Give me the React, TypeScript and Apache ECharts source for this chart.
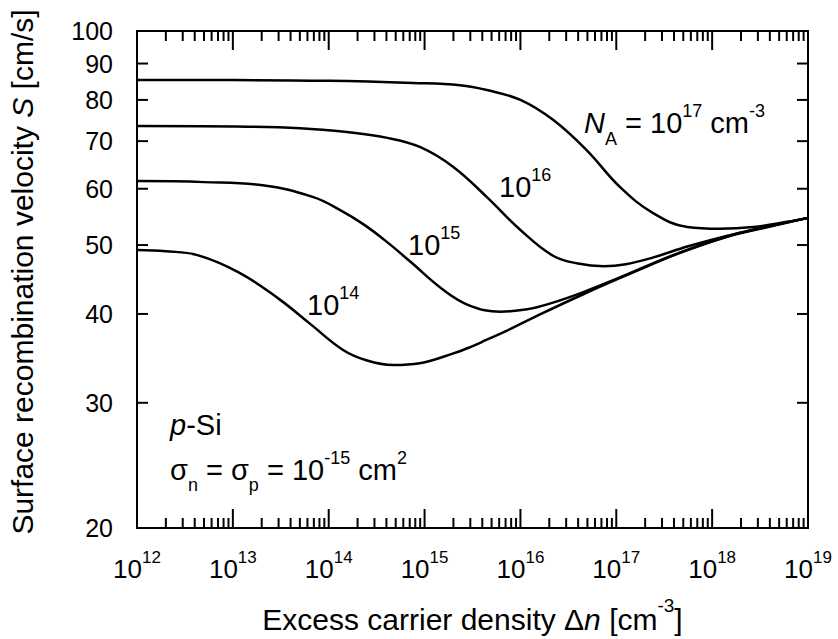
import { useEffect, useRef } from "react";
import * as echarts from "echarts";

const FONT = '"Liberation Sans", Arial, Helvetica, sans-serif';

// Δn given as log10(Δn / cm^-3); S in cm/s. One curve per acceptor density N_A.
const dnExp14 = [12.0, 12.3, 12.63, 13.07, 13.49, 13.8, 14.15, 14.4, 14.67, 14.95, 15.3, 15.47, 15.65, 15.86, 16.13, 16.65, 17.2, 17.66, 18.15, 18.5, 19.0];
const sRec14 = [49.2, 49.0, 48.4, 45.7, 41.9, 38.8, 35.6, 34.4, 33.9, 34.1, 35.2, 35.9, 36.8, 37.9, 39.5, 42.6, 45.9, 48.7, 51.3, 52.7, 54.6];

const dnExp15 = [12.0, 12.7, 13.31, 13.84, 14.12, 14.36, 14.6, 14.85, 15.19, 15.47, 15.79, 16.07, 16.34, 16.65, 17.0, 17.66, 18.15, 18.5, 19.0];
const sRec15 = [61.5, 61.3, 60.7, 58.4, 56.0, 53.5, 50.6, 47.4, 43.3, 41.1, 40.3, 40.6, 41.5, 42.9, 44.8, 48.8, 51.4, 52.8, 54.6];

const dnExp16 = [12.0, 13.0, 13.7, 14.19, 14.6, 14.95, 15.3, 15.65, 16.0, 16.34, 16.6, 16.87, 17.1, 17.38, 17.75, 18.15, 18.5, 19.0];
const sRec16 = [73.5, 73.4, 73.0, 72.1, 70.8, 68.7, 64.4, 58.4, 52.5, 48.3, 47.1, 46.7, 47.0, 48.0, 49.8, 51.5, 52.8, 54.6];

const dnExp17 = [12.0, 13.0, 14.0, 14.88, 15.37, 15.65, 16.0, 16.34, 16.69, 17.04, 17.38, 17.74, 18.08, 18.43, 18.78, 19.0];
const sRec17 = [85.3, 85.3, 85.1, 84.5, 83.9, 82.6, 80.0, 75.0, 68.0, 60.3, 55.5, 53.0, 52.7, 53.0, 53.9, 54.6];

// Axis ticks
const xDecades = [12, 13, 14, 15, 16, 17, 18, 19];
const yTickValues = [20, 30, 40, 50, 60, 70, 80, 90, 100];

const X_MIN = 1e12;
const X_MAX = 1e19;
const Y_MIN = 20;
const Y_MAX = 100;

const GRID = { left: 137, top: 31, width: 671, height: 497 };

type Piece = { t: string; size: number; dy?: number; italic?: boolean };

let measureCtx: CanvasRenderingContext2D | null = null;
function textWidth(t: string, size: number, italic?: boolean): number {
  if (!measureCtx) measureCtx = document.createElement("canvas").getContext("2d");
  if (!measureCtx) return t.length * size * 0.55;
  measureCtx.font = `${italic ? "italic " : ""}${size}px ${FONT}`;
  return measureCtx.measureText(t).width;
}

function textEl(t: string, x: number, y: number, size: number, italic?: boolean) {
  return {
    type: "text",
    x,
    y,
    silent: true,
    style: {
      text: t,
      fill: "#000",
      font: `${italic ? "italic " : ""}${size}px ${FONT}`,
      align: "left",
      textAlign: "left",
      verticalAlign: "middle",
      textVerticalAlign: "middle",
    },
  };
}

// Lays a run of text pieces (with super/subscripts) on one baseline.
function textRun(pieces: Piece[], x: number, baseline: number, align: "left" | "center" | "right") {
  const widths = pieces.map((p) => textWidth(p.t, p.size, p.italic));
  const total = widths.reduce((a, b) => a + b, 0);
  let cx = align === "left" ? x : align === "center" ? x - total / 2 : x - total;
  return pieces.map((p, i) => {
    const el = textEl(p.t, cx, baseline + (p.dy ?? 0) - 0.3465 * p.size, p.size, p.italic);
    cx += widths[i];
    return el;
  });
}

const toPoints = (exps: number[], vals: number[]) => exps.map((e, i) => [Math.pow(10, e), vals[i]]);

const xTickData: number[][] = [];
xDecades.forEach((e, i) => {
  xTickData.push([Math.pow(10, e), Y_MIN, 1]);
  if (i < xDecades.length - 1) {
    for (let m = 2; m <= 9; m++) xTickData.push([m * Math.pow(10, e), Y_MIN, 0]);
  }
});

const TICK = { stroke: "#000", lineWidth: 2 };

function curve(name: string, exps: number[], vals: number[]) {
  return {
    name,
    type: "line",
    data: toPoints(exps, vals),
    showSymbol: false,
    smooth: 0.4,
    lineStyle: { color: "#000", width: 2.5 },
    silent: true,
    z: 3,
  };
}

const ANN = 29;
const SUP = 18;
const TITLE = 30;

function buildOption(): any {
  const annotations = [
    ...textRun([{ t: "10", size: ANN }, { t: "14", size: SUP, dy: -16 }], 307, 315, "left"),
    ...textRun([{ t: "10", size: ANN }, { t: "15", size: SUP, dy: -16 }], 408, 255, "left"),
    ...textRun([{ t: "10", size: ANN }, { t: "16", size: SUP, dy: -16 }], 499, 197, "left"),
    ...textRun(
      [
        { t: "N", size: ANN, italic: true },
        { t: "A", size: SUP, dy: 12 },
        { t: " = 10", size: ANN },
        { t: "17", size: SUP, dy: -16 },
        { t: " cm", size: ANN },
        { t: "-3", size: SUP, dy: -16 },
      ],
      584,
      133,
      "left"
    ),
    ...textRun([{ t: "p", size: ANN, italic: true }, { t: "-Si", size: ANN }], 170, 435, "left"),
    ...textRun(
      [
        { t: "σ", size: ANN },
        { t: "n", size: SUP, dy: 11 },
        { t: " = σ", size: ANN },
        { t: "p", size: SUP, dy: 11 },
        { t: " = 10", size: ANN },
        { t: "-15", size: SUP, dy: -16 },
        { t: " cm", size: ANN },
        { t: "2", size: SUP, dy: -16 },
      ],
      170,
      480,
      "left"
    ),
    // x axis title
    ...textRun(
      [
        { t: "Excess carrier density Δ", size: TITLE },
        { t: "n", size: TITLE, italic: true },
        { t: " [cm", size: TITLE },
        { t: "-3", size: 19, dy: -18 },
        { t: "]", size: TITLE },
      ],
      GRID.left + GRID.width / 2,
      630,
      "center"
    ),
    // y axis title, rotated to read bottom to top
    {
      type: "group",
      x: 33,
      y: 272,
      rotation: Math.PI / 2,
      children: textRun(
        [
          { t: "Surface recombination velocity ", size: TITLE },
          { t: "S", size: TITLE, italic: true },
          { t: " [cm/s]", size: TITLE },
        ],
        0,
        0,
        "center"
      ),
    },
  ];

  return {
    animation: false,
    backgroundColor: "#fff",
    grid: {
      left: GRID.left,
      top: GRID.top,
      width: GRID.width,
      height: GRID.height,
      show: true,
      borderColor: "#000",
      borderWidth: 2,
      backgroundColor: "transparent",
      containLabel: false,
    },
    xAxis: {
      type: "log",
      logBase: 10,
      min: X_MIN,
      max: X_MAX,
      axisLine: { show: false },
      axisTick: { show: false },
      axisLabel: { show: false },
      splitLine: { show: false },
      minorTick: { show: false },
    },
    yAxis: {
      type: "log",
      logBase: 10,
      min: Y_MIN,
      max: Y_MAX,
      axisLine: { show: false },
      axisTick: { show: false },
      axisLabel: { show: false },
      splitLine: { show: false },
      minorTick: { show: false },
    },
    graphic: { elements: annotations },
    series: [
      curve("1e14", dnExp14, sRec14),
      curve("1e15", dnExp15, sRec15),
      curve("1e16", dnExp16, sRec16),
      curve("1e17", dnExp17, sRec17),
      {
        name: "xTicks",
        type: "custom",
        silent: true,
        data: xTickData,
        encode: { x: 0, y: 1 },
        renderItem: (params: any, api: any) => {
          const cs = params.coordSys;
          const px = api.coord([api.value(0), Y_MIN])[0];
          const len = api.value(2) ? 19 : 10;
          const top = cs.y;
          const bottom = cs.y + cs.height;
          return {
            type: "group",
            children: [
              { type: "line", shape: { x1: px, y1: bottom, x2: px, y2: bottom - len }, style: TICK },
              { type: "line", shape: { x1: px, y1: top, x2: px, y2: top + len }, style: TICK },
            ],
          };
        },
      },
      {
        name: "xLabels",
        type: "custom",
        silent: true,
        data: xDecades.map((e) => [Math.pow(10, e), Y_MIN, e]),
        encode: { x: 0, y: 1 },
        renderItem: (params: any, api: any) => {
          const cs = params.coordSys;
          const px = api.coord([api.value(0), Y_MIN])[0];
          const bottom = cs.y + cs.height;
          return {
            type: "group",
            children: textRun(
              [
                { t: "10", size: 26 },
                { t: String(api.value(2)), size: 17, dy: -15 },
              ],
              px,
              bottom + 50,
              "center"
            ),
          };
        },
      },
      {
        name: "yTicks",
        type: "custom",
        silent: true,
        data: yTickValues.map((v) => [X_MIN, v]),
        encode: { x: 0, y: 1 },
        renderItem: (params: any, api: any) => {
          const cs = params.coordSys;
          const v = api.value(1);
          const py = api.coord([X_MIN, v])[1];
          const left = cs.x;
          const right = cs.x + cs.width;
          return {
            type: "group",
            children: [
              { type: "line", shape: { x1: left, y1: py, x2: left + 11, y2: py }, style: TICK },
              { type: "line", shape: { x1: right - 11, y1: py, x2: right, y2: py }, style: TICK },
              ...textRun([{ t: String(v), size: 25 }], left - 24, py + 9, "right"),
            ],
          };
        },
      },
    ],
  };
}

export default function App() {
  const ref = useRef<HTMLDivElement>(null);
  useEffect(() => {
    document.body.style.margin = "0";
    if (!ref.current) return;
    const chart = echarts.init(ref.current, null, { renderer: "svg" });
    chart.setOption(buildOption());
    return () => chart.dispose();
  }, []);
  return <div ref={ref} style={{ width: 838, height: 639, background: "#fff" }} />;
}
